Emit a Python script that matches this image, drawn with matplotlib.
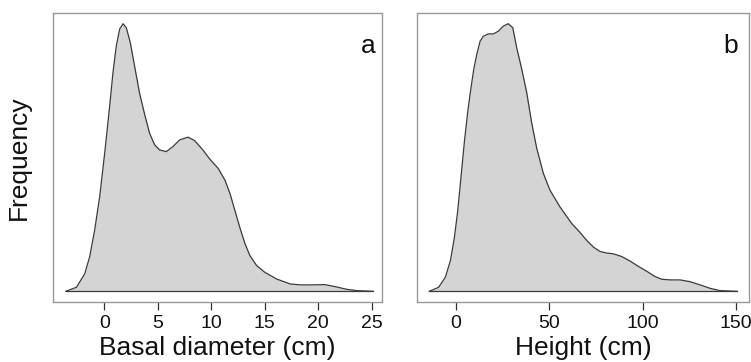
import matplotlib
matplotlib.use("Agg")
import matplotlib.pyplot as plt

plt.rcParams['font.family'] = ['Liberation Sans', 'DejaVu Sans']

# Panel a: basal diameter density (relative to peak)
diam_x = [-3.6, -2.6, -1.83, -1.37, -0.9, -0.43, 0.04, 0.5, 0.81, 1.12, 1.44, 1.75,
          2.06, 2.43, 2.84, 3.3, 3.78, 4.24, 4.71, 5.18, 5.8, 6.42, 7.05, 7.82, 8.45,
          9.22, 9.88, 10.65, 11.28, 11.75, 12.2, 12.7, 13.15, 13.6, 14.24, 15.0, 16.1,
          17.36, 18.3, 19.5, 20.6, 21.56, 22.65, 23.6, 25.1]
diam_y = [0, 0.015, 0.065, 0.128, 0.228, 0.353, 0.516, 0.69, 0.816, 0.916, 0.98, 1.0,
          0.985, 0.93, 0.84, 0.74, 0.66, 0.59, 0.547, 0.528, 0.522, 0.541, 0.566, 0.576,
          0.563, 0.528, 0.493, 0.459, 0.415, 0.365, 0.303, 0.234, 0.178, 0.134, 0.096,
          0.071, 0.046, 0.0275, 0.024, 0.024, 0.025, 0.0175, 0.0075, 0.0025, 0]

# Panel b: height density (relative to peak)
height_x = [-14.3, -9.3, -5.7, -3.0, -0.9, 0.9, 2.7, 4.5, 6.25, 8.0, 9.5, 11.1, 12.9,
            14.6, 17.3, 20.0, 22.7, 25.3, 28.0, 30.4, 32.5, 35.2, 37.9, 40.5, 43.2, 46.8,
            50.3, 55.7, 62.0, 66.4, 70.0, 73.6, 77.1, 80.7, 84.3, 88.7, 93.2, 97.7,
            102.1, 106.6, 110.2, 114.7, 120.0, 125.3, 130.7, 136.1, 141.4, 150.3]
height_y = [0, 0.015, 0.053, 0.115, 0.2, 0.30, 0.43, 0.56, 0.67, 0.76, 0.83, 0.885,
            0.935, 0.953, 0.962, 0.962, 0.972, 0.991, 1.0, 0.985, 0.91, 0.83, 0.741,
            0.63, 0.535, 0.44, 0.378, 0.315, 0.253, 0.22, 0.19, 0.165, 0.149, 0.143,
            0.14, 0.13, 0.113, 0.093, 0.075, 0.055, 0.045, 0.0425, 0.0425, 0.036,
            0.024, 0.011, 0.0025, 0]

ticks_a = [0, 5, 10, 15, 20, 25]
ticks_b = [0, 50, 100, 150]

fig = plt.figure(figsize=(7.51, 3.62), dpi=100)
ax_a = fig.add_axes([53/751, 1-302/362, 329/751, 289/362])
ax_b = fig.add_axes([417/751, 1-302/362, 332/751, 289/362])

panels = [
    (ax_a, diam_x, diam_y, (-4.79, 25.95), ticks_a, "Basal diameter (cm)", "a", 0.957),
    (ax_b, height_x, height_y, (-20.9, 156.9), ticks_b, "Height (cm)", "b", 0.946),
]

for ax, xs, ys, xlim, ticks, xlabel, letter, lx in panels:
    ax.fill_between(xs, 0, ys, color='#d4d4d4', linewidth=0)
    ax.plot(xs, ys, color='#3a3a3a', linewidth=0.9)
    ax.plot([xs[0], xs[-1]], [0, 0], color='#3a3a3a', linewidth=0.9)
    ax.set_xlim(*xlim)
    ax.set_ylim(-0.04, 1.04)
    ax.set_yticks([])
    ax.set_xticks(ticks)
    ax.set_xticklabels([str(t) for t in ticks], fontsize=14, color='#111111')
    ax.tick_params(axis='x', direction='out', length=6, width=0.9, color='#333333', pad=3)
    for s in ax.spines.values():
        s.set_color('#999999')
        s.set_linewidth(1.0)
    ax.set_xlabel(xlabel, fontsize=19, color='#111111', labelpad=3)
    ax.text(lx, 0.862, letter, transform=ax.transAxes, fontsize=19,
            ha='center', va='baseline', color='#111111')

ax_a.set_ylabel("Frequency", fontsize=19, color='#111111', labelpad=16)

fig.savefig("out.png", dpi=100)
